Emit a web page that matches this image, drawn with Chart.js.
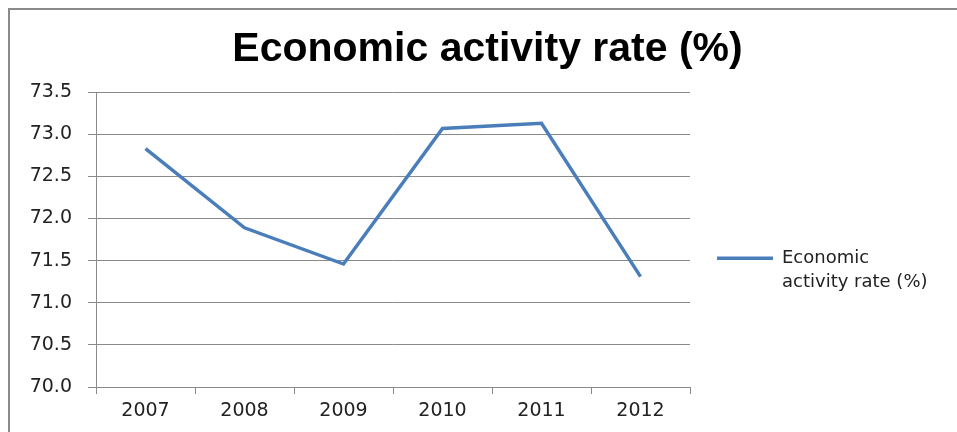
<!DOCTYPE html>
<html>
<head>
<meta charset="utf-8">
<script src="https://cdn.jsdelivr.net/npm/chart.js@4/dist/chart.umd.min.js"></script>
<style>
  body { margin: 0; background: #fff; }
  #wrap { position: relative; width: 957px; height: 432px; overflow: hidden; }
  #frame { position: absolute; left: 8px; top: 8px; width: 1200px; height: 800px; border: 2px solid #8a8a8a; }
  #myChart { position: absolute; left: 0; top: 0; }
</style>
</head>
<body>
<div id="wrap">
  <div id="frame"></div>
  <canvas id="myChart" width="957" height="432"></canvas>
</div>
<script>
const years = ['2007', '2008', '2009', '2010', '2011', '2012'];
const activityRate = [72.83, 71.89, 71.46, 73.07, 73.13, 71.31];
const seriesName = 'Economic activity rate (%)';
const legendLines = ['Economic', 'activity rate (%)'];

const ctx = document.getElementById('myChart');
const myChart = new Chart(ctx, {
    type: 'line',
    data: {
        labels: years,
        datasets: [{
            label: seriesName,
            data: activityRate,
            borderColor: '#4a7ebb',
            backgroundColor: '#4a7ebb',
            borderWidth: 3.5,
            pointRadius: 0,
            tension: 0,
            fill: false
        }]
    },
    options: {
        responsive: false,
        animation: false,
        layout: {
            padding: { left: 18, top: 0, right: 0, bottom: 0 }
        },
        plugins: {
            title: {
                display: true,
                text: 'Economic activity rate (%)',
                color: '#000',
                font: { family: 'Liberation Sans', size: 41, weight: 'bold', lineHeight: 1.2 },
                padding: { top: 25, bottom: 18 }
            },
            legend: {
                display: true,
                position: 'right',
                align: 'start',
                fullSize: false,
                maxWidth: 267,
                title: {
                    display: true,
                    text: '',
                    padding: { top: 0, bottom: 115.6 }
                },
                labels: {
                    usePointStyle: true,
                    pointStyle: 'line',
                    pointStyleWidth: 56,
                    padding: 27,
                    color: '#222',
                    font: { family: 'DejaVu Sans', size: 18, lineHeight: 1.333 },
                    generateLabels: function(chart) {
                        const ds = chart.data.datasets[0];
                        // trailing spaces widen the legend box to the original's width
                        const lines = legendLines.map((s, i) => i === 1 ? s + '\u00a0'.repeat(6) : s);
                        return [{
                            text: lines,
                            fontColor: '#222',
                            strokeStyle: ds.borderColor,
                            fillStyle: ds.borderColor,
                            lineWidth: 3.5,
                            pointStyle: 'line',
                            hidden: false,
                            datasetIndex: 0
                        }];
                    }
                }
            },
            tooltip: { enabled: false }
        },
        scales: {
            x: {
                offset: true,
                afterFit: function(scale) { scale.height = 45; },
                grid: {
                    offset: true,
                    drawOnChartArea: false,
                    drawTicks: true,
                    tickLength: 7,
                    color: '#8a8a8a'
                },
                border: { display: true, color: '#8a8a8a' },
                ticks: {
                    color: '#222',
                    padding: 6,
                    maxRotation: 0,
                    font: { family: 'DejaVu Sans', size: 19 }
                }
            },
            y: {
                min: 70,
                max: 73.5,
                afterFit: function(scale) { scale.width = 78; },
                grid: {
                    color: '#8a8a8a',
                    drawTicks: true,
                    tickLength: 8
                },
                border: { display: true, color: '#8a8a8a' },
                ticks: {
                    stepSize: 0.5,
                    color: '#222',
                    padding: 16,
                    font: { family: 'DejaVu Sans', size: 19 },
                    callback: function(value) { return value.toFixed(1); }
                }
            }
        }
    }
});
</script>
</body>
</html>
